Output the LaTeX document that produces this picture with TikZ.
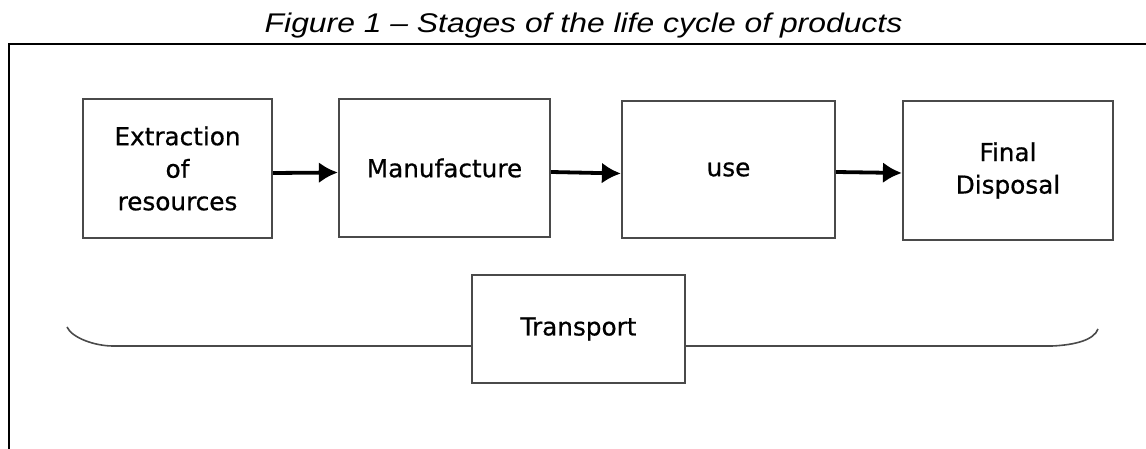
\documentclass[tikz,border=0pt]{standalone}
\usepackage{fontspec}
\setmainfont{DejaVu Sans}[FakeBold=0.5]
\newfontfamily\boxfont{DejaVu Sans}[FakeBold=0.7]
\newfontfamily\titlefont{Liberation Sans}
\usetikzlibrary{arrows.meta}
\definecolor{boxgray}{HTML}{4A4A4A}
\tikzset{
  stagebox/.style={draw=boxgray, line width=2.2bp, align=center, inner sep=0pt,
    font=\boxfont\fontsize{24.7bp}{32.5bp}\selectfont},
  flowarrow/.style={line width=3.8bp, -{Latex[length=19bp,width=21bp]}},
  braceline/.style={draw=boxgray, line width=1.6bp},
  framestroke/.style={draw=black, line width=2.2bp}
}
\begin{document}
\begin{tikzpicture}[x=1bp,y=-1bp]
\useasboundingbox (0,0) rectangle (1146,449);
% title
\node[anchor=base, inner sep=0pt, font=\titlefont\itshape\fontsize{27bp}{30bp}\selectfont] (title) at (583.5,33) {\scalebox{1.18}[1]{Figure 1 – Stages of the life cycle of products}};
% frame
\draw[framestroke] (8,44) -- (1146,44);
\draw[framestroke] (9,44) -- (9,449);
% stages
\node[stagebox, minimum width=189bp, minimum height=139bp] (b1) at (177.5,168.5) {Extraction\\of\\resources};
\node[stagebox, minimum width=211bp, minimum height=138bp] (b2) at (444.5,168) {Manufacture};
\node[stagebox, minimum width=213bp, minimum height=137bp] (b3) at (728.5,169.5) {use};
\node[stagebox, minimum width=210bp, minimum height=139bp] (b4) at (1008,170.5) {Final\\Disposal};
\node[stagebox, minimum width=213bp, minimum height=108bp] (t) at (578.5,329) {Transport};
% arrows
\draw[flowarrow] ([yshift=-4.5bp]b1.east) -- ([yshift=-4.5bp]b2.west);
\draw[flowarrow] ([yshift=-4bp]b2.east) -- ([yshift=-4bp]b3.west);
\draw[flowarrow] ([yshift=-2.5bp]b3.east) -- ([yshift=-2.5bp]b4.west);
% brace line
\coordinate (bl) at (67,327);
\coordinate (br) at (1098,329);
\draw[braceline] (bl) .. controls (72,338) and (95,346) .. (113,346) -- ([yshift=-17bp]t.west);
\draw[braceline] ([yshift=-17bp]t.east) -- (1052,346) .. controls (1075,345) and (1094,340) .. (br);
\end{tikzpicture}
\end{document}
